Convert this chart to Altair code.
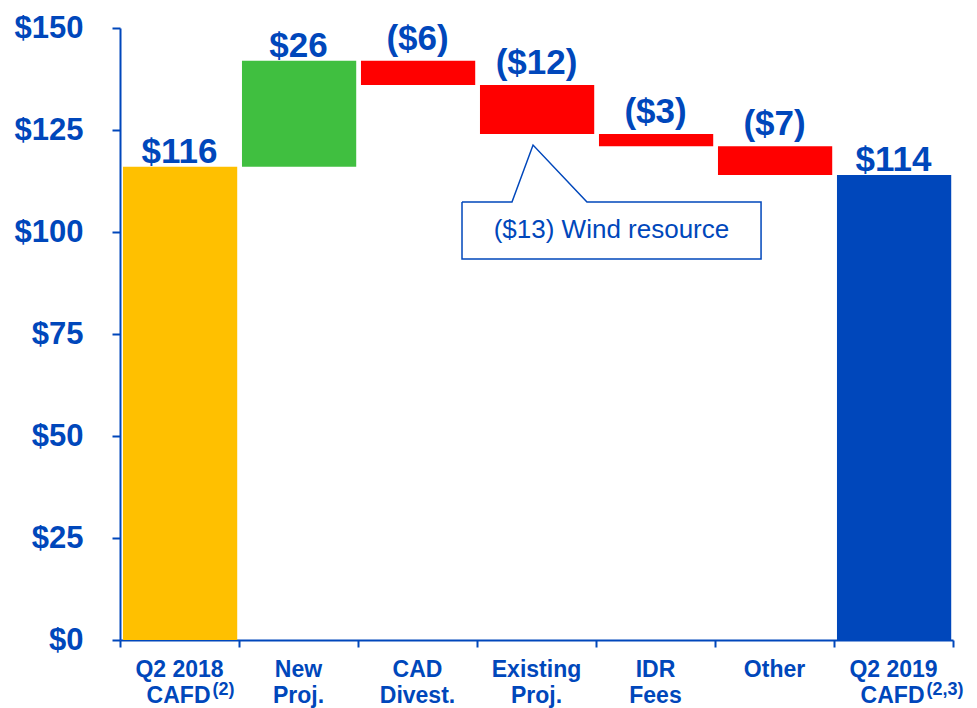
import altair as alt
import pandas as pd

# ---------------- data ----------------
categories = ["Q2 2018 CAFD", "New Proj.", "CAD Divest.", "Existing Proj.",
              "IDR Fees", "Other", "Q2 2019 CAFD"]
values = [116, 26, -6, -12, -3, -7, 114]
kinds = ["start", "up", "down", "down", "down", "down", "end"]
label_line1 = ["Q2 2018", "New", "CAD", "Existing", "IDR", "Other", "Q2 2019"]
label_line2 = ["CAFD", "Proj.", "Divest.", "Proj.", "Fees", "", "CAFD"]
footnotes = ["(2)", "", "", "", "", "", "(2,3)"]
y_ticks = [0, 25, 50, 75, 100, 125, 150]

# callout annotation (data units: x = category index, y = $)
callout_x = [2.874, 3.294, 3.471, 3.924, 5.387, 5.387, 2.874, 2.874]
callout_y = [107.35, 107.35, 121.3, 107.35, 107.35, 93.4, 93.4, 107.35]
callout_text = ["($13) Wind resource"]
callout_text_x = [4.13]
callout_text_y = [100.4]

# ---------------- build tables ----------------
BLUE = "#0047BB"
FONT = "Liberation Sans"

rows = []
running = 0
for i, (c, v, k) in enumerate(zip(categories, values, kinds)):
    if k in ("start", "end"):
        lo, hi = 0, v
        running = v
    else:
        lo, hi = running, running + v
        running = hi
    lab = f"${v}" if v >= 0 else f"(${-v})"
    rows.append(dict(cat=c, kind=k, lo=lo, hi=hi, top=max(lo, hi),
                     x0=i + 0.025, x1=i + 0.985, xc=i + 0.5,
                     label=lab, sign="pos" if v >= 0 else "neg",
                     line1=label_line1[i], line2=label_line2[i],
                     note=footnotes[i]))
df = pd.DataFrame(rows)

callout = pd.DataFrame({"x": callout_x, "y": callout_y,
                        "ord": list(range(len(callout_x)))})
callout_lab = pd.DataFrame({"x": callout_text_x, "y": callout_text_y,
                            "t": callout_text})

xscale = alt.Scale(domain=[0, 7], nice=False, zero=False)
yscale = alt.Scale(domain=[0, 150], nice=False, zero=True)
xaxis = alt.Axis(values=list(range(8)), labels=False, tickSize=7, grid=False,
                 domainColor=BLUE, tickColor=BLUE, domainWidth=2, tickWidth=2,
                 title=None)
yaxis = alt.Axis(values=y_ticks, labelExpr="'$' + datum.value", grid=False,
                 tickSize=8, domainColor=BLUE, tickColor=BLUE, domainWidth=2,
                 tickWidth=2, labelColor=BLUE, labelFont=FONT, labelFontSize=31,
                 labelFontWeight="bold", labelPadding=29, title=None)


def X(f):
    return alt.X(f, type="quantitative", scale=xscale, axis=xaxis)


def Y(f):
    return alt.Y(f, type="quantitative", scale=yscale, axis=yaxis)


base = alt.Chart(df)

bars = base.mark_bar().encode(
    x=X("x0"), x2="x1", y=Y("lo"), y2="hi",
    color=alt.Color("kind:N", legend=None,
                    scale=alt.Scale(domain=["start", "up", "down", "end"],
                                    range=["#FFC000", "#40BF40", "#FF0000", "#0047BB"])),
)

val_pos = base.transform_filter(alt.datum.sign == "pos").mark_text(
    font=FONT, fontSize=35, fontWeight="bold", color=BLUE,
    baseline="alphabetic", dy=-4).encode(x=X("xc"), y=Y("top"), text="label:N")
val_neg = base.transform_filter(alt.datum.sign == "neg").mark_text(
    font=FONT, fontSize=35, fontWeight="bold", color=BLUE,
    baseline="alphabetic", dy=-11).encode(x=X("xc"), y=Y("top"), text="label:N")

xl1 = base.mark_text(font=FONT, fontSize=23, fontWeight="bold", color=BLUE,
                     baseline="alphabetic").encode(
    x=X("xc"), y=alt.value(649), text="line1:N")
xl2 = base.transform_filter(alt.datum.note == "").mark_text(
    font=FONT, fontSize=23, fontWeight="bold", color=BLUE,
    baseline="alphabetic").encode(x=X("xc"), y=alt.value(675), text="line2:N")
xl2c = base.transform_filter(alt.datum.note != "").mark_text(
    font=FONT, fontSize=23, fontWeight="bold", color=BLUE,
    baseline="alphabetic", align="right", dx=31).encode(
    x=X("xc"), y=alt.value(675), text="line2:N")
xnote = base.transform_filter(alt.datum.note != "").mark_text(
    font=FONT, fontSize=18, fontWeight="bold", color=BLUE,
    baseline="alphabetic", align="left", dx=33).encode(
    x=X("xc"), y=alt.value(667), text="note:N")

call_line = alt.Chart(callout).mark_line(color=BLUE, strokeWidth=1.5).encode(
    x=X("x"), y=Y("y"), order="ord:Q")
call_text = alt.Chart(callout_lab).mark_text(
    font=FONT, fontSize=26, color=BLUE, baseline="middle").encode(
    x=X("x"), y=Y("y"), text="t:N")

chart = alt.layer(bars, val_pos, val_neg, xl1, xl2, xl2c, xnote,
                  call_line, call_text).properties(
    width=833, height=612,
    autosize=alt.AutoSizeParams(type="none"),
    padding={"left": 112, "top": 20, "right": 16, "bottom": 72},
    background="white",
).configure_view(stroke=None)

chart.save("out.html", embed_options={"renderer": "svg", "actions": False})
